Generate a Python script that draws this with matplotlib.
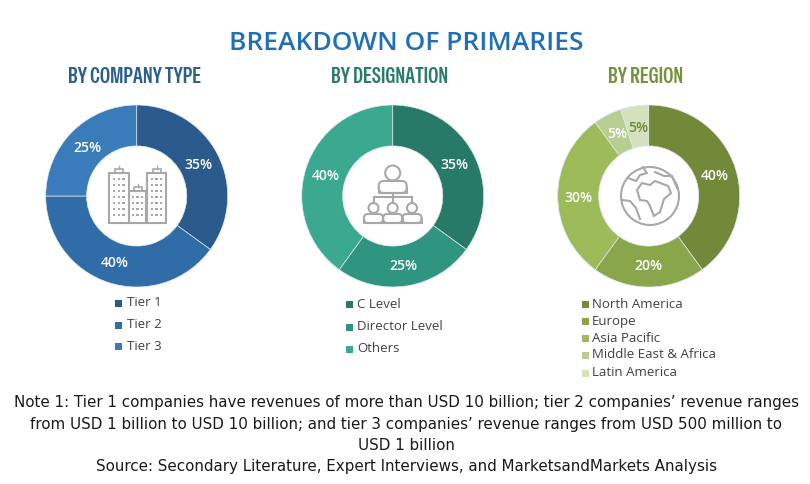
import matplotlib
matplotlib.use("Agg")
import matplotlib.pyplot as plt
from matplotlib import font_manager as fm
from matplotlib.patches import Rectangle, Circle, FancyBboxPatch, Polygon
import logging
logging.getLogger("matplotlib.font_manager").setLevel(logging.ERROR)

W, H = 810, 484
installed = {f.name for f in fm.fontManager.ttflist}
HAS_GOTHIC = "Special Gothic Condensed One" in installed
NARROW = "Special Gothic Condensed One" if HAS_GOTHIC else "Roboto"
SUB_SIZE = 15.8 if HAS_GOTHIC else 11.5
SUB_WEIGHT = "normal" if HAS_GOTHIC else "bold"

main_title = "BREAKDOWN OF PRIMARIES"

company_title = "BY COMPANY TYPE"
company_labels = ["Tier 1", "Tier 2", "Tier 3"]
company_values = [35, 40, 25]
company_colors = ["#2a5b8c", "#2f6ca8", "#3a7bb9"]

designation_title = "BY DESIGNATION"
designation_labels = ["C Level", "Director Level", "Others"]
designation_values = [35, 25, 40]
designation_colors = ["#287a68", "#2f9480", "#3aa98f"]

region_title = "BY REGION"
region_labels = ["North America", "Europe", "Asia Pacific", "Middle East & Africa", "Latin America"]
region_values = [40, 20, 30, 5, 5]
region_colors = ["#72893a", "#8aa64a", "#9dbb58", "#b8cd90", "#d5e1bd"]

notes = [
    "Note 1: Tier 1 companies have revenues of more than USD 10 billion; tier 2 companies’ revenue ranges",
    "from USD 1 billion to USD 10 billion; and tier 3 companies’ revenue ranges from USD 500 million to",
    "USD 1 billion",
    "Source: Secondary Literature, Expert Interviews, and MarketsandMarkets Analysis",
]

fig = plt.figure(figsize=(W / 100, H / 100), dpi=100, facecolor="white")


def donut(cx, cy, values, colors):
    r = 91
    ax = fig.add_axes([(cx - r) / W, 1 - (cy + r) / H, 2 * r / W, 2 * r / H])
    ax.pie(values, colors=colors, startangle=90, counterclock=False, radius=1,
           wedgeprops=dict(width=0.45, edgecolor="#dfe8ee", linewidth=0.5))
    ax.set_xlim(-1, 1)
    ax.set_ylim(-1, 1)
    ax.set_aspect("equal")
    ax.axis("off")


donut(136.7, 196, company_values, company_colors)
donut(392.7, 196, designation_values, designation_colors)
donut(648.7, 196, region_values, region_colors)

ov = fig.add_axes([0, 0, 1, 1], facecolor="none")
ov.set_xlim(0, W)
ov.set_ylim(H, 0)
ov.axis("off")

ov.text(406, 44, main_title, ha="center", va="center", fontsize=19, color="#1f70b8",
        family="Open Sans", fontweight="semibold")
sub = dict(ha="center", va="center", fontsize=SUB_SIZE, family=NARROW, fontweight=SUB_WEIGHT)
ov.text(134.5, 77, company_title, color="#2a5f8f", **sub)
ov.text(390, 77, designation_title, color="#2a7c6c", **sub)
ov.text(646, 77, region_title, color="#76923c", **sub)

val = dict(ha="center", va="center", fontsize=10, color="white", family="Open Sans", fontweight="semibold")
positions = [
    (company_values, [(198, 165), (115, 263), (87, 148)]),
    (designation_values, [(454, 165), (403, 266), (326, 176)]),
    (region_values[:4], [(715, 176), (648, 266), (578, 198), (617, 134)]),
]
for vs, ps in positions:
    for v, (x, y) in zip(vs, ps):
        ov.text(x, y, f"{v}%", **val)
ov.text(638, 128, f"{region_values[4]}%", **{**val, "color": "#6f8a3c"})


def legend(labels, colors, sq_x, tx_x, ys):
    for lab, c, y in zip(labels, colors, ys):
        ov.add_patch(Rectangle((sq_x, y - 3.5), 7, 7, facecolor=c, edgecolor="none"))
        ov.text(tx_x, y, lab, ha="left", va="center", fontsize=9.5, color="#404040", family="Open Sans")


legend(company_labels, company_colors, 115, 127, [303, 325, 346])
legend(designation_labels, designation_colors, 346, 357, [304, 327, 349])
legend(region_labels, region_colors, 582, 592, [304, 321, 338, 355, 373])

for t, y in zip(notes, [402, 424, 446, 467]):
    ov.text(406, y, t, ha="center", va="center", fontsize=10.9, color="#1a1a1a", family="DejaVu Sans")

G = "#a8a8a8"
ln = dict(fill=False, edgecolor=G, linewidth=1.5)


def building(x0, x1, y0, y1, nx, ny):
    ov.add_patch(Rectangle((x0, y0), x1 - x0, y1 - y0, **ln))
    ov.add_patch(Rectangle(((x0 + x1) / 2 - 4, y0 - 4), 8, 4, **{**ln, "linewidth": 1.2}))
    ov.plot([(x0 + x1) / 2] * 2, [y0 - 7, y0 - 4], color=G, lw=1)
    dx = (x1 - x0) / (nx + 1)
    dy = (y1 - y0 - 2) / (ny + 1)
    for i in range(nx):
        for j in range(ny):
            ov.add_patch(Rectangle((x0 + dx * (i + 1) - 1.2, y0 + dy * (j + 1) - 1), 2.4, 2.2,
                                   facecolor=G, edgecolor="none"))


building(109, 128.5, 173, 223, 3, 7)
building(147, 166, 173, 223, 3, 7)
building(129, 146, 191, 223, 3, 4)


def person(cx, head_y, r, body_top, body_bottom, bw, round_r):
    ov.add_patch(Circle((cx, head_y), r, **ln))
    ov.add_patch(FancyBboxPatch((cx - bw / 2, body_top), bw, body_bottom - body_top,
                                boxstyle=f"round,pad=0,rounding_size={round_r}", **ln))
    ov.plot([cx - bw / 2, cx - bw / 2, cx + bw / 2, cx + bw / 2],
            [body_bottom - round_r, body_bottom, body_bottom, body_bottom - round_r], color=G, lw=1.5)


person(392.7, 173, 7.5, 181, 193, 28, 5)
ov.plot([374, 412], [197, 197], color=G, lw=1.5)
ov.plot([392.7, 392.7], [193, 203], color=G, lw=1.5)
ov.plot([374, 374], [197, 203], color=G, lw=1.5)
ov.plot([412, 412], [197, 203], color=G, lw=1.5)
for c in (373.5, 392.7, 412):
    person(c, 208, 5, 214, 223, 19, 4)

ov.add_patch(Circle((650, 196), 29, **ln))
ov.add_patch(Polygon([(637, 190), (642, 183), (650, 185), (655, 181), (668, 186), (671, 193), (664, 199),
                      (660, 212), (654, 216), (650, 206), (647, 201), (640, 200)], closed=True, **ln))
ov.plot([628, 636, 640, 647, 643], [178, 181, 175, 173, 167], color=G, lw=1.5)
ov.plot([622, 630, 636, 640], [200, 201, 208, 219], color=G, lw=1.5)
ov.plot([655, 664, 672, 677], [172, 176, 176, 188], color=G, lw=1.5)

fig.savefig("out.png", dpi=100, facecolor="white")
